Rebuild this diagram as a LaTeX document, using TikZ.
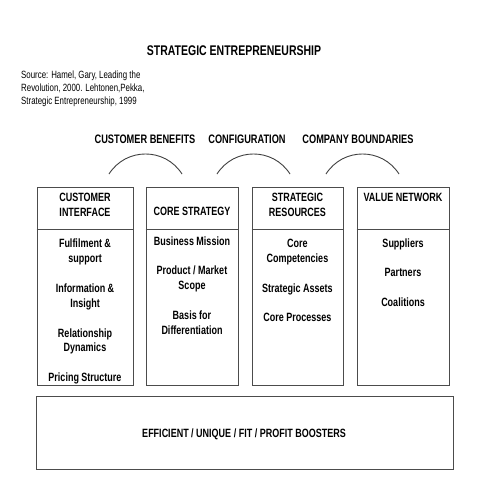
\documentclass[tikz,border=0pt]{standalone}
\usepackage{fontspec}
\setmainfont{Liberation Sans}[FakeStretch=0.75]
\begin{document}
\begin{tikzpicture}[x=1pt,y=-1pt,
  box/.style={draw=black!70, line width=0.9pt, inner sep=0pt},
  frame/.style={draw=black!70, line width=0.9pt},
  hdr/.style={font=\bfseries\fontsize{12}{14}\selectfont, inner sep=0pt, anchor=base},
  itm/.style={font=\bfseries\fontsize{12}{14}\selectfont, inner sep=0pt, anchor=base},
  lbl/.style={font=\bfseries\fontsize{12.3}{14}\selectfont, inner sep=0pt, anchor=base},
  src/.style={font=\fontsize{10.5}{13}\selectfont, inner sep=0pt, anchor=base west},
  arcline/.style={draw=black!75, line width=0.9pt}
]
\useasboundingbox (0,0) rectangle (480,480);
% title
\node[font=\bfseries\fontsize{14}{16}\selectfont, inner sep=0pt, anchor=base] (title) at (234,55) {STRATEGIC ENTREPRENEURSHIP};
% source
\node[src] (s1) at (21,78) {Source: Hamel, Gary, Leading the};
\node[src] (s2) at (21,91) {Revolution, 2000. Lehtonen,Pekka,};
\node[src] (s3) at (21,104) {Strategic Entrepreneurship, 1999};
% labels
\node[lbl] (l1) at (145,143.5) {CUSTOMER BENEFITS};
\node[lbl] (l2) at (247,143.5) {CONFIGURATION};
\node[lbl] (l3) at (358,143.5) {COMPANY BOUNDARIES};
% arcs
\coordinate (a1s) at (109,174); \coordinate (a1e) at (182,174);
\coordinate (a2s) at (217,174); \coordinate (a2e) at (290,174);
\coordinate (a3s) at (326,174); \coordinate (a3e) at (399,174);
\draw[arcline] (a1s) .. controls (126,147.3) and (165,147.3) .. (a1e);
\draw[arcline] (a2s) .. controls (234,147.3) and (273,147.3) .. (a2e);
\draw[arcline] (a3s) .. controls (343,147.3) and (382,147.3) .. (a3e);
% boxes
\node[box, minimum width=96, minimum height=198] (b1) at (85,286) {};
\node[box, minimum width=92, minimum height=198] (b2) at (192,286) {};
\node[box, minimum width=91, minimum height=198] (b3) at (297.5,286) {};
\node[box, minimum width=92, minimum height=198] (b4) at (403,286) {};
\coordinate (hy) at (0,229);
\draw[frame] (b1.west |- hy) -- (b1.east |- hy);
\draw[frame] (b2.west |- hy) -- (b2.east |- hy);
\draw[frame] (b3.west |- hy) -- (b3.east |- hy);
\draw[frame] (b4.west |- hy) -- (b4.east |- hy);
% headers
\node[hdr] (h1a) at (85,201.5) {CUSTOMER};
\node[hdr] (h1b) at (85,216.5) {INTERFACE};
\node[hdr] (h2) at (192,215) {CORE STRATEGY};
\node[hdr] (h3a) at (297.5,201.5) {STRATEGIC};
\node[hdr] (h3b) at (297.5,216.5) {RESOURCES};
\node[hdr] (h4) at (403,201.5) {VALUE NETWORK};
% box 1 items
\node[itm] (i11a) at (85,247.5) {Fulfilment \&};
\node[itm] (i11b) at (85,262.5) {support};
\node[itm] (i12a) at (85,292.5) {Information \&};
\node[itm] (i12b) at (85,307.5) {Insight};
\node[itm] (i13a) at (85,337.5) {Relationship};
\node[itm] (i13b) at (85,351.5) {Dynamics};
\node[itm] (i14) at (85,381.5) {Pricing Structure};
% box 2 items
\node[itm] (i21) at (192,245.5) {Business Mission};
\node[itm] (i22a) at (192,274.5) {Product / Market};
\node[itm] (i22b) at (192,289.5) {Scope};
\node[itm] (i23a) at (192,319.5) {Basis for};
\node[itm] (i23b) at (192,334.5) {Differentiation};
% box 3 items
\node[itm] (i31a) at (297.5,247.5) {Core};
\node[itm] (i31b) at (297.5,262.5) {Competencies};
\node[itm] (i32) at (297.5,292.5) {Strategic Assets};
\node[itm] (i33) at (297.5,321.5) {Core Processes};
% box 4 items
\node[itm] (i41) at (403,247.5) {Suppliers};
\node[itm] (i42) at (403,276.5) {Partners};
\node[itm] (i43) at (403,306.5) {Coalitions};
% bottom box
\node[box, minimum width=417, minimum height=73] (bot) at (244.5,432.5) {};
\node[itm] (bt) at (244,437.5) {EFFICIENT / UNIQUE / FIT / PROFIT BOOSTERS};
\end{tikzpicture}
\end{document}
